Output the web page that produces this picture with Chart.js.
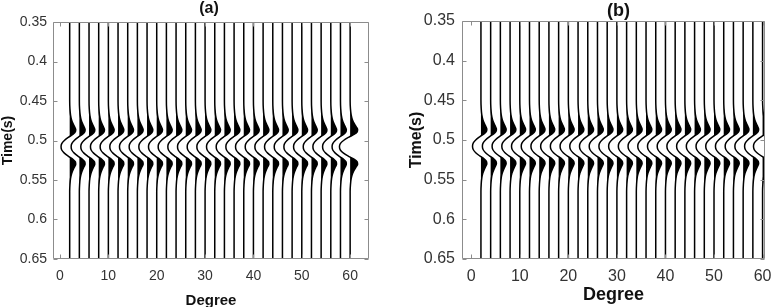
<!DOCTYPE html>
<html><head><meta charset="utf-8">
<script src="https://cdn.jsdelivr.net/npm/chart.js@4/dist/chart.umd.min.js"></script>
<style>
html,body{margin:0;padding:0;background:#fff;overflow:hidden;width:782px;height:307px;position:relative;}
canvas{position:absolute;top:0;}
#ca{left:0;} #cb{left:390px;}
</style></head><body>
<canvas id="ca" width="390" height="310"></canvas>
<canvas id="cb" width="392" height="310"></canvas>
<script>
// ---- data ----
const degrees = [2,4,6,8,10,12,14,16,18,20,22,24,26,28,30,32,34,36,38,40,42,44,46,48,50,52,54,56,58,60];
const times = [0.35,0.45,0.46,0.468,0.474,0.479,0.483,0.486,0.489,0.492,0.496,0.500,0.504,0.508,0.512,0.516,0.520,0.524,0.527,0.530,0.533,0.537,0.542,0.548,0.556,0.565,0.65];
const wavelet = [0,0,0.03,0.1,0.22,0.4,0.58,0.7,0.66,0.4,-0.15,-0.62,-0.92,-1.0,-0.92,-0.62,-0.15,0.4,0.66,0.7,0.58,0.4,0.22,0.1,0.03,0,0];
const amplitudesA = [1.05,1,1,1,1,1,1,1,1,1,1,1,1,1,1,1,1,1,1,1,1,1,1,1,1,1,1,1,1.02,1.3];
const amplitudesB = [1.02,1,1,1,1,1,1,1,1,1,1,1,1,1,1,1,1,1,1,1,1,1,1,1,1,1,1,1,1,1.1];
const xTickValues = [0,10,20,30,40,50,60];
const yTickValues = [0.35,0.4,0.45,0.5,0.55,0.6,0.65];
const panelTitles = ['(a)','(b)'];
const xAxisTitle = 'Degree';
const yAxisTitle = 'Time(s)';
const WIGGLE = 1.7; // degrees per unit amplitude

const FONT = '"Liberation Sans", Arial, Helvetica, sans-serif';

function buildDatasets(amps){
  const ds = [];
  degrees.forEach((d,i)=>{
    const a = amps[i];
    ds.push({
      data: times.map((t,k)=>({x: d + Math.max(0, WIGGLE*a*wavelet[k]), y: t})),
      fill: {value: d}, backgroundColor: '#000', borderColor: 'rgba(0,0,0,0)', borderWidth: 0,
      pointRadius: 0, cubicInterpolationMode: 'monotone'
    });
    ds.push({
      data: times.map((t,k)=>({x: d + WIGGLE*a*wavelet[k], y: t})),
      fill: false, borderColor: '#000', borderWidth: 1.5,
      pointRadius: 0, cubicInterpolationMode: 'monotone'
    });
  });
  return ds;
}

const framePlugin = {
  id: 'frame',
  afterDraw(chart, args, opts){
    const {ctx, chartArea: a} = chart;
    const x = chart.scales.x, y = chart.scales.y;
    ctx.save();
    ctx.strokeStyle = '#8c8c8c'; ctx.lineWidth = 1;
    ctx.beginPath();
    const l = Math.round(a.left)+0.5, r = Math.round(a.right)-0.5, t = Math.round(a.top)+0.5, b = Math.round(a.bottom)-0.5;
    ctx.moveTo(l,t); ctx.lineTo(r,t); ctx.lineTo(r,b); ctx.lineTo(l,b); ctx.closePath();
    const L = 4;
    xTickValues.forEach(v=>{
      const p = Math.round(x.getPixelForValue(v))+0.5;
      ctx.moveTo(p,b); ctx.lineTo(p,b-L);
      ctx.moveTo(p,t); ctx.lineTo(p,t+L);
    });
    yTickValues.forEach(v=>{
      const p = Math.round(y.getPixelForValue(v))+0.5;
      ctx.moveTo(l,p); ctx.lineTo(l+L,p);
      ctx.moveTo(r,p); ctx.lineTo(r-L,p);
    });
    ctx.stroke();
    ctx.fillStyle = '#111';
    ctx.font = 'bold ' + opts.size + 'px ' + FONT;
    ctx.textAlign = 'center'; ctx.textBaseline = 'middle';
    ctx.fillText(opts.text, (a.left+a.right)/2 + opts.dx, opts.y);
    ctx.restore();
  }
};

function makeChart(id, amps, cfg){
  return new Chart(document.getElementById(id), {
    type: 'line',
    data: {datasets: buildDatasets(amps)},
    plugins: [framePlugin],
    options: {
      responsive: false, animation: false, devicePixelRatio: 1,
      indexAxis: 'y',
      layout: {padding: {left: 0, right: cfg.padRight, top: cfg.padTop, bottom: 0}},
      plugins: {legend: {display: false}, tooltip: {enabled: false},
        frame: {text: cfg.title, size: cfg.titleSize, y: cfg.titleY, dx: cfg.titleDx}},
      scales: {
        x: {
          type: 'linear', position: 'bottom', min: cfg.xmin, max: cfg.xmax,
          afterBuildTicks: s => { s.ticks = xTickValues.map(v=>({value: v})); },
          afterFit: s => { s.height = cfg.xHeight; },
          grid: {display: false, drawTicks: false}, border: {display: false},
          ticks: {font: {family: FONT, size: cfg.tickSize}, color: '#333', padding: cfg.xTickPad, maxRotation: 0,
                  callback: v => String(v)},
          title: {display: true, text: xAxisTitle, color: '#111',
                  font: {family: FONT, size: cfg.xTitleSize, weight: 'bold'}, padding: {top: 0, bottom: cfg.xTitlePad}}
        },
        y: {
          type: 'linear', position: 'left', reverse: true, min: 0.35, max: 0.65,
          afterBuildTicks: s => { s.ticks = yTickValues.map(v=>({value: v})); },
          afterFit: s => { s.width = cfg.yWidth; },
          grid: {display: false, drawTicks: false}, border: {display: false},
          ticks: {font: {family: FONT, size: cfg.tickSize}, color: '#333', padding: cfg.yTickPad,
                  callback: v => String(v)},
          title: {display: true, text: yAxisTitle, color: '#111',
                  font: {family: FONT, size: cfg.yTitleSize, weight: 'bold'}, padding: {top: cfg.yTitlePad, bottom: 0}}
        }
      }
    }
  });
}

makeChart('ca', amplitudesA, {
  title: panelTitles[0], titleSize: 16, titleY: 9, titleDx: -2,
  padRight: 21, padTop: 22, xHeight: 51, yWidth: 53,
  xmin: -1.45, xmax: 63.9, tickSize: 14, xTickPad: 9, yTickPad: 6,
  xTitleSize: 15, xTitlePad: 0, yTitleSize: 14, yTitlePad: 0
});
makeChart('cb', amplitudesB, {
  title: panelTitles[1], titleSize: 18, titleY: 11, titleDx: 5,
  padRight: 17, padTop: 21, xHeight: 51, yWidth: 72,
  xmin: -1.9, xmax: 60.5, tickSize: 16, xTickPad: 8, yTickPad: 7,
  xTitleSize: 18, xTitlePad: 4, yTitleSize: 16, yTitlePad: 17
});
</script>
</body></html>
